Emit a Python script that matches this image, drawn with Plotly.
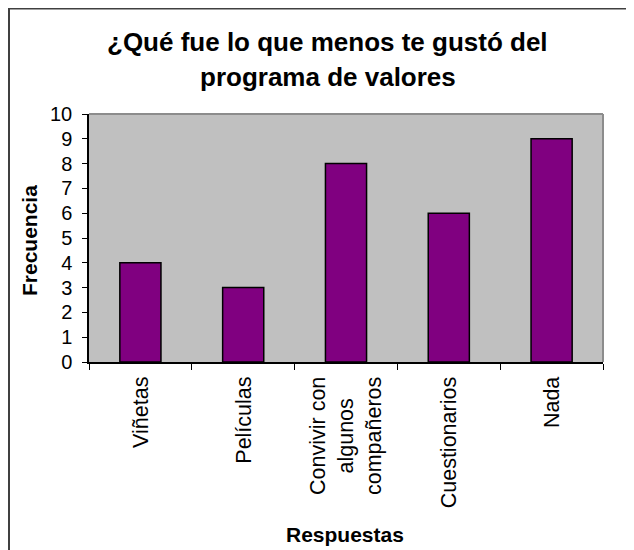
import plotly.graph_objects as go

categories = ["Viñetas", "Películas", "Convivir con<br>algunos<br>compañeros", "Cuestionarios", "Nada"]
values = [4, 3, 8, 6, 9]
y_ticks = list(range(0, 11))

title_lines = ["¿Qué fue lo que menos te gustó del", "programa de valores"]
x_title = "Respuestas"
y_title = "Frecuencia"

FONT = "Liberation Sans, Arial, sans-serif"
OFF = 8  # page body margin offset
W, H = 626, 542
SX0, SX1, SY0, SY1 = 89, 603, 114, 362
L, T = SX0 - OFF, SY0 - OFF
R = W - (SX1 - OFF)
B = H - (SY1 - OFF)
PW, PH = W - L - R, H - T - B

def px_x(p):
    return (p - OFF - L) / PW

def px_y(p):
    return (SY1 - p) / PH

fig = go.Figure()
fig.add_trace(go.Bar(
    x=categories, y=values,
    marker=dict(color="#800080", line=dict(color="#000000", width=1.5)),
    hoverinfo="x+y",
))

annotations = []
for cat in categories:
    annotations.append(dict(
        text=cat, x=cat, xref="x", y=0, yref="paper",
        xanchor="center", yanchor="top", yshift=-13,
        textangle=-90, align="center", showarrow=False,
        font=dict(family=FONT, size=21.5, color="#000000"),
    ))
annotations.append(dict(text="<b>" + title_lines[0] + "</b>", x=px_x(327), y=px_y(42),
                        xref="paper", yref="paper", xanchor="center", yanchor="middle",
                        showarrow=False, font=dict(family=FONT, size=26, color="#000000")))
annotations.append(dict(text="<b>" + title_lines[1] + "</b>", x=px_x(328), y=px_y(77),
                        xref="paper", yref="paper", xanchor="center", yanchor="middle",
                        showarrow=False, font=dict(family=FONT, size=26, color="#000000")))
annotations.append(dict(text="<b>" + x_title + "</b>", x=px_x(345), y=px_y(534),
                        xref="paper", yref="paper", xanchor="center", yanchor="middle",
                        showarrow=False, font=dict(family=FONT, size=21, color="#000000")))
annotations.append(dict(text="<b>" + y_title + "</b>", x=px_x(29), y=px_y(241),
                        xref="paper", yref="paper", xanchor="center", yanchor="middle",
                        textangle=-90, showarrow=False, font=dict(family=FONT, size=21, color="#000000")))

shapes = [
    dict(type="line", xref="paper", yref="paper", x0=0, x1=1, y0=1, y1=1,
         line=dict(color="#8c8c8c", width=2), layer="above"),
    dict(type="line", xref="paper", yref="paper", x0=1, x1=1, y0=0, y1=1,
         line=dict(color="#8c8c8c", width=2), layer="above"),
    dict(type="rect", xref="paper", yref="paper",
         x0=px_x(9), x1=px_x(630), y0=px_y(560), y1=px_y(8.5),
         line=dict(color="#404040", width=2), fillcolor="rgba(0,0,0,0)", layer="below"),
]

fig.update_layout(
    width=W, height=H,
    margin=dict(l=L, r=R, t=T, b=B, pad=0),
    paper_bgcolor="#ffffff", plot_bgcolor="#c0c0c0",
    bargap=0.6, showlegend=False,
    font=dict(family=FONT, color="#000000"),
    annotations=annotations, shapes=shapes,
)
fig.update_xaxes(
    type="category", range=[-0.5, 4.5],
    showline=True, linecolor="#000000", linewidth=1.5,
    ticks="outside", tickson="boundaries", ticklen=6, tickcolor="#000000", tickwidth=1,
    showticklabels=False, showgrid=False, zeroline=False,
)
fig.update_yaxes(
    range=[0, 10], tickvals=y_ticks, ticktext=[str(v) for v in y_ticks],
    showline=True, linecolor="#000000", linewidth=1.5,
    ticks="outside", ticklen=5, tickcolor="#000000", tickwidth=1,
    tickfont=dict(family=FONT, size=20, color="#000000"),
    ticklabelstandoff=6,
    showgrid=False, zeroline=False,
)

fig.write_html("out.html")
